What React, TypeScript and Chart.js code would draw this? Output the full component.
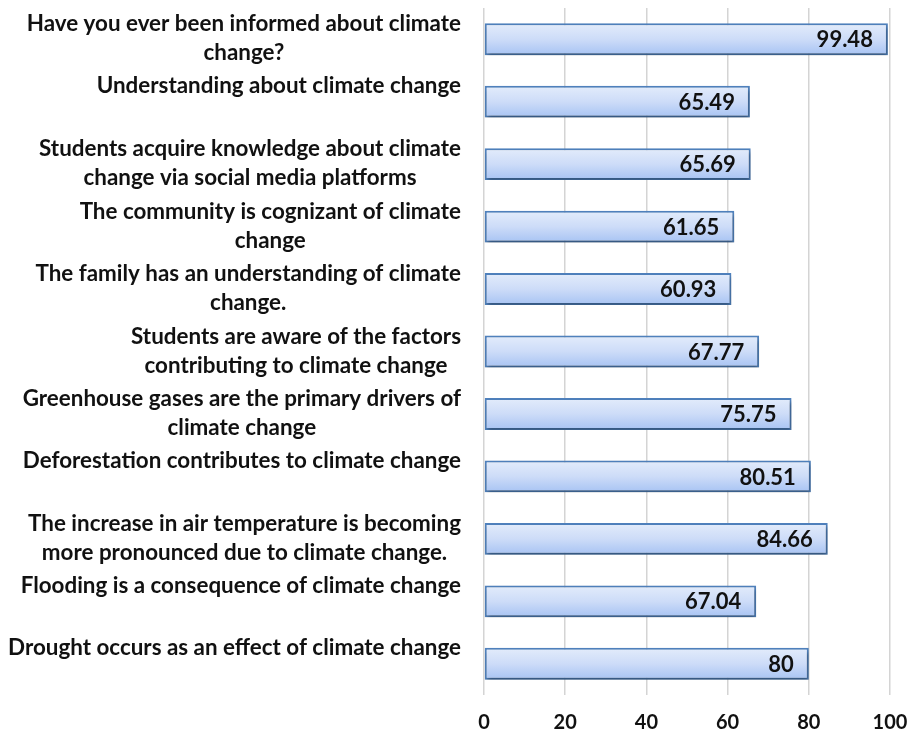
import React, { useEffect, useRef } from "react";
import { Chart, registerables } from "chart.js";

Chart.register(...registerables);

const categories: string[][] = [
  ["Have you ever been informed about climate", "change?"],
  ["Understanding about climate change"],
  ["Students acquire knowledge about climate", "change via social media platforms"],
  ["The community is cognizant of climate", "change"],
  ["The family has an understanding of climate", "change."],
  ["Students are aware of the factors", "contributing to climate change"],
  ["Greenhouse gases are the primary drivers of", "climate change"],
  ["Deforestation contributes to climate change"],
  ["The increase in air temperature is becoming", "more pronounced due to climate change."],
  ["Flooding is a consequence of climate change"],
  ["Drought occurs as an effect of climate change"],
];

const values: number[] = [99.48, 65.49, 65.69, 61.65, 60.93, 67.77, 75.75, 80.51, 84.66, 67.04, 80];

const xTicks: number[] = [0, 20, 40, 60, 80, 100];

const FONT = "Lato, 'Open Sans', sans-serif";

const shadowPlugin = {
  id: "barShadow",
  beforeDatasetsDraw(chart: any) {
    const ctx = chart.ctx;
    ctx.save();
    ctx.shadowColor = "rgba(0,0,0,0.35)";
    ctx.shadowBlur = 4;
    ctx.shadowOffsetX = 1;
    ctx.shadowOffsetY = 3;
  },
  afterDatasetsDraw(chart: any) {
    chart.ctx.restore();
  },
};

const labelPlugin = {
  id: "labels",
  afterDraw(chart: any) {
    const ctx = chart.ctx;
    const yScale = chart.scales.y;
    const xScale = chart.scales.x;
    ctx.save();
    // category labels
    ctx.font = `bold 22.4px ${FONT}`;
    ctx.fillStyle = "#111";
    ctx.textBaseline = "middle";
    ctx.textAlign = "center";
    const right = yScale.right - 23;
    categories.forEach((lines, i) => {
      const y = yScale.getPixelForValue(i);
      const maxW = Math.max(...lines.map((l) => ctx.measureText(l).width));
      const cx = right - maxW / 2;
      if (lines.length === 1) {
        ctx.fillText(lines[0], cx, y - 16);
      } else {
        ctx.fillText(lines[0], cx, y - 15);
        ctx.fillText(lines[1], cx, y + 14);
      }
    });
    // value labels
    ctx.font = `bold 22px ${FONT}`;
    ctx.textAlign = "right";
    values.forEach((v, i) => {
      const y = yScale.getPixelForValue(i);
      const x = xScale.getPixelForValue(v);
      ctx.fillText(String(v), x - 15, y + 1);
    });
    ctx.restore();
  },
};

export default function App() {
  const ref = useRef<HTMLCanvasElement>(null);
  useEffect(() => {
    if (!ref.current) return;
    const chart = new Chart(ref.current, {
      type: "bar",
      data: {
        labels: categories.map((c) => c.join(" ")),
        datasets: [
          {
            data: values,
            backgroundColor: (ctx: any) => {
              const c = ctx.chart;
              const area = c.chartArea;
              if (!area) return "#b9d0f7";
              const yScale = c.scales.y;
              const yc = yScale.getPixelForValue(ctx.dataIndex);
              const h = 32;
              const g = c.ctx.createLinearGradient(0, yc - h / 2, 0, yc + h / 2);
              g.addColorStop(0, "#e3ecfb");
              g.addColorStop(0.5, "#cddcf8");
              g.addColorStop(1, "#a7c3f3");
              return g;
            },
            borderColor: "#4f81bd",
            borderWidth: 2,
            borderSkipped: false,
            barPercentage: 0.51,
            categoryPercentage: 1,
          },
        ],
      },
      options: {
        indexAxis: "y",
        animation: false,
        responsive: false,
        maintainAspectRatio: false,
        layout: { padding: { top: 8, right: 19, left: 0, bottom: 0 } },
        plugins: { legend: { display: false }, tooltip: { enabled: false } },
        scales: {
          x: {
            min: 0,
            max: 100,
            afterBuildTicks: (scale: any) => {
              scale.ticks = xTicks.map((v) => ({ value: v }));
            },
            grid: { color: "#d4d4d4", lineWidth: 1.5, drawTicks: false },
            border: { display: false },
            ticks: {
              padding: 16,
              color: "#111",
              font: { family: FONT, size: 20, weight: "bold" },
            },
            afterFit: (scale: any) => {
              scale.height = 43;
              scale.paddingLeft = 0;
              scale.paddingRight = 0;
            },
          },
          y: {
            grid: { display: false, drawTicks: false },
            border: { display: false },
            ticks: { display: false },
            afterFit: (scale: any) => {
              scale.width = 484;
            },
          },
        },
      },
      plugins: [shadowPlugin, labelPlugin],
    } as any);
    return () => chart.destroy();
  }, []);
  return (
    <div style={{ position: "fixed", left: 0, top: 0, width: 909, height: 738, background: "#fff" }}>
      <canvas ref={ref} width={909} height={738} />
    </div>
  );
}
